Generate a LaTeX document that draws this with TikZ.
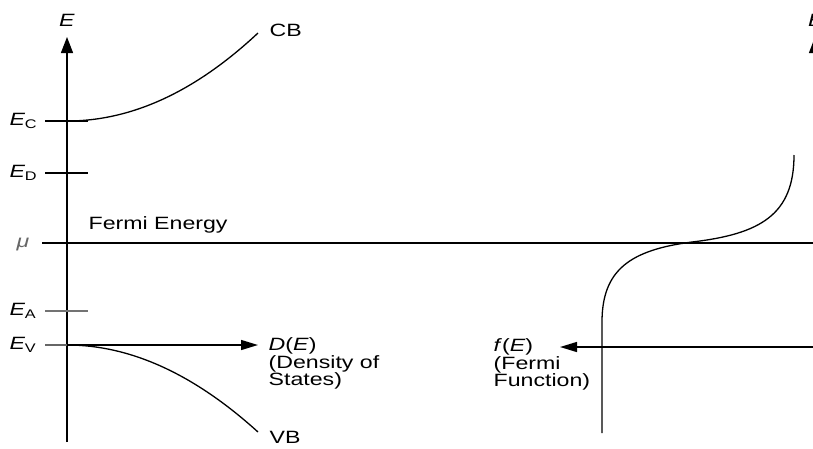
\documentclass[tikz,border=0pt]{standalone}
\usepackage{fontspec}
\setmainfont{Liberation Sans}[FakeStretch=1.3]
\usetikzlibrary{arrows.meta}
\newcommand{\Elev}[1]{\textit{E}\kern-0.5pt\raisebox{-2.5pt}{\fontsize{12.5}{12.5}\selectfont #1}}
\begin{document}
\begin{tikzpicture}[x=1pt,y=-1pt,line width=1.4pt,
  lbl/.style={inner sep=0pt,font=\fontsize{17.8}{17.5}\selectfont},
  blk/.style={lbl,align=left,anchor=north west},
  tick/.style={line width=1.3pt},
  arr/.style={-{Triangle[length=17pt,width=10pt]}},
  axarr/.style={-{Triangle[length=16pt,width=12pt]}},
  curve/.style={line width=1.3pt}]
\useasboundingbox (0,0) rectangle (813,448);
% left axis
\coordinate (axB) at (67,442);
\coordinate (axT) at (67,37);
\draw[axarr] (axB) -- (axT);
\node[lbl] (Elab) at (67,20) {\textit{E}};
% levels
\coordinate (ECa) at (45,121); \coordinate (ECb) at (88,121); \coordinate (ECo) at (67,121);
\coordinate (EDa) at (45,173); \coordinate (EDb) at (88,173);
\coordinate (mua) at (42,243); \coordinate (mub) at (820,243);
\coordinate (EAa) at (45,311); \coordinate (EAb) at (88,311);
\coordinate (EVa) at (45,345); \coordinate (EVo) at (67,345); \coordinate (DEtip) at (258,345);
\draw[tick] (ECa) -- (ECb);
\draw[tick] (EDa) -- (EDb);
\draw[tick] (mua) -- (mub);
\draw[tick,black!55] (EAa) -- (EAb);
\draw[tick,black!60] (EVa) -- (EVo);
\draw[arr] (EVo) -- (DEtip);
\node[lbl,anchor=west] (ECl) at (9,121) {\Elev{C}};
\node[lbl,anchor=west] (EDl) at (9,173) {\Elev{D}};
\node[lbl,anchor=west,text=black!60] (mul) at (16,244) {\textit{μ}};
\node[lbl,anchor=west] (EAl) at (9,311) {\Elev{A}};
\node[lbl,anchor=west] (EVl) at (9,345) {\Elev{V}};
\node[lbl,anchor=west] (FE) at (88,225) {Fermi Energy};
% bands
\coordinate (CBe) at (258,33);
\coordinate (VBe) at (258,432);
\draw[curve] (ECo) .. controls (131.7,121) and (195.3,91.7) .. (CBe);
\draw[curve] (EVo) .. controls (130.3,345) and (194,374) .. (VBe);
\node[lbl,anchor=west] (CB) at (269,30) {CB};
\node[lbl,anchor=west] (VB) at (269,437) {VB};
\node[blk] (DE) at (268,337) {\textit{D}(\textit{E})\\(Density of\\States)};
% Fermi function
\coordinate (fB) at (602,433);
\coordinate (fS) at (602,322);
\coordinate (fM) at (692,242);
\coordinate (fT) at (794,155);
\draw[curve] (fB) -- (fS) .. controls (602,270) and (630,250) .. (fM)
  .. controls (760,234) and (794,215) .. (fT);
\coordinate (fR) at (830,347);
\coordinate (fTip) at (560,347);
\draw[arr] (fR) -- (fTip);
\node[blk] (fE) at (493,338) {\textit{f}(\textit{E})\\(Fermi\\Function)};
% clipped right axis
\coordinate (raB) at (815,442);
\coordinate (raT) at (815,37);
\draw[axarr] (raB) -- (raT);
\node[lbl] (rE) at (816,20) {\textit{E}};
\end{tikzpicture}
\end{document}
